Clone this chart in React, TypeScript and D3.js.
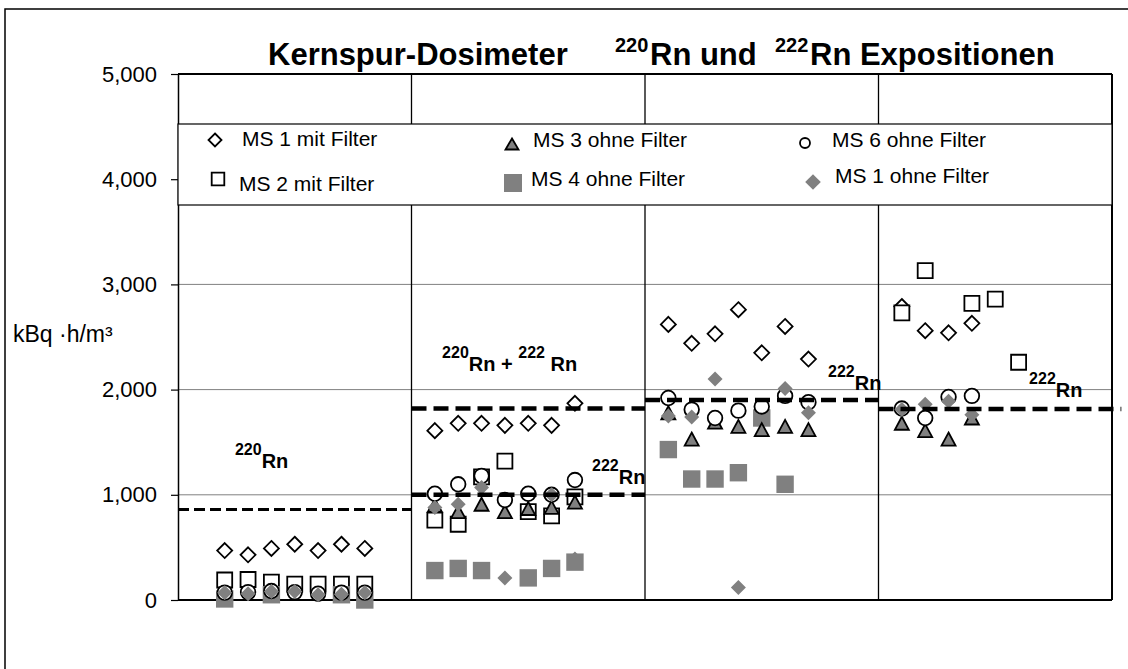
import * as d3 from 'd3';
import React, { useRef, useEffect } from 'react';

// x position of every measurement (panel index + offset inside the panel)
const xPos = [
  0.2, 0.3, 0.4, 0.5, 0.6, 0.7, 0.8,
  1.1, 1.2, 1.3, 1.4, 1.5, 1.6, 1.7,
  2.1, 2.2, 2.3, 2.4, 2.5, 2.6, 2.7,
  3.1, 3.2, 3.3, 3.4, 3.5, 3.6,
];

// kBq·h/m³ per dosimeter
const ms1Mit = [
  470, 430, 490, 530, 470, 530, 490,
  1610, 1680, 1680, 1660, 1680, 1660, 1870,
  2620, 2440, 2530, 2760, 2350, 2600, 2290,
  2790, 2560, 2540, 2630, null, null,
];
const ms2Mit = [
  190, 195, 170, 150, 150, 150, 150,
  760, 720, 1170, 1320, 840, 800, 980,
  null, null, null, null, null, null, null,
  2730, 3130, null, 2820, 2860, 2260,
];
const ms3Ohne = [
  null, null, null, null, null, null, null,
  900, 840, 910, 840, 870, 880, 930,
  1780, 1530, 1690, 1650, 1620, 1650, 1620,
  1680, 1610, 1530, 1730, null, null,
];
const ms4Ohne = [
  10, null, 50, null, null, 50, 0,
  280, 300, 280, null, 210, 300, 360,
  1430, 1150, 1150, 1210, 1730, 1100, null,
  null, null, null, null, null, null,
];
const ms6Ohne = [
  70, 75, 85, 75, 60, 70, 70,
  1010, 1100, 1180, 950, 1010, 1000, 1140,
  1920, 1810, 1730, 1800, 1840, 1940, 1880,
  1820, 1730, 1930, 1940, null, null,
];
const ms1Ohne = [
  70, 60, 80, 80, 50, 55, 70,
  880, 910, 1070, 210, 210, 1000, 390,
  1750, 1740, 2100, 120, null, 2010, 1780,
  1810, 1860, 1890, 1760, null, null,
];

// dashed reference levels
const refStart = [0, 1, 1, 2, 3];
const refEnd = [1, 2, 2, 3, 4.04];
const refValue = [860, 1820, 1000, 1900, 1815];

const yTicks = [0, 1000, 2000, 3000, 4000, 5000];
const panelEdges = [1, 2, 3];

// in-plot labels: [sup, base] pairs, anchored in data units
const noteX = [0.244, 1.131, 1.773, 2.784, 3.645];
const noteV = [1255, 2177, 1103, 1996, 1930];
const noteParts = [
  [['220', true], ['Rn', false]],
  [['220', true], ['Rn + ', false], ['222', true], [' Rn', false]],
  [['222', true], ['Rn', false]],
  [['222', true], ['Rn', false]],
  [['222', true], ['Rn', false]],
];

const legendNames = [
  'MS 1 mit Filter', 'MS 2 mit Filter', 'MS 3 ohne Filter',
  'MS 4 ohne Filter', 'MS 6 ohne Filter', 'MS 1 ohne Filter',
];

const FONT = 'Arial, "Liberation Sans", sans-serif';
const GRAY = '#808080';

const diamond = (h) => `M0,${-h}L${h},0L0,${h}L${-h},0Z`;
const square = (h) => `M${-h},${-h}H${h}V${h}H${-h}Z`;
const triangle = (w, h) => `M0,${-h / 2}L${w / 2},${h / 2}L${-w / 2},${h / 2}Z`;

function App() {
  const ref = useRef(null);

  useEffect(() => {
    draw();
  }, []);

  const draw = () => {
    const svg = d3.select(ref.current);
    svg.selectAll('*').remove();

    const x = d3.scaleLinear().domain([0, 4]).range([178, 1112]);
    const y = d3.scaleLinear().domain([0, 5000]).range([600, 74]);

    // outer frame
    svg.append('rect')
      .attr('x', 5).attr('y', 9).attr('width', 1130).attr('height', 700)
      .attr('fill', 'white').attr('stroke', '#000').attr('stroke-width', 1.5);

    // horizontal grid
    svg.append('g').selectAll('line').data(yTicks.slice(1, 5)).join('line')
      .attr('x1', x(0)).attr('x2', x(4))
      .attr('y1', (d) => y(d)).attr('y2', (d) => y(d))
      .attr('stroke', GRAY).attr('stroke-width', 1);

    // panel dividers
    svg.append('g').selectAll('line').data(panelEdges).join('line')
      .attr('x1', (d) => x(d)).attr('x2', (d) => x(d))
      .attr('y1', y(5000)).attr('y2', y(0))
      .attr('stroke', '#000').attr('stroke-width', 1.3);

    // top, right and bottom border of plot
    svg.append('line').attr('x1', x(0)).attr('x2', x(4)).attr('y1', y(5000)).attr('y2', y(5000))
      .attr('stroke', '#000').attr('stroke-width', 2);
    svg.append('line').attr('x1', x(4)).attr('x2', x(4)).attr('y1', y(5000)).attr('y2', y(0))
      .attr('stroke', '#000').attr('stroke-width', 2);
    svg.append('line').attr('x1', x(0)).attr('x2', x(4)).attr('y1', y(0)).attr('y2', y(0))
      .attr('stroke', '#000').attr('stroke-width', 2);

    // y axis
    const ax = svg.append('g').attr('transform', `translate(${x(0)},0)`)
      .call(d3.axisLeft(y).tickValues(yTicks).tickSize(7).tickSizeOuter(0).tickPadding(14)
        .tickFormat(d3.format(',')));
    ax.select('.domain').attr('stroke', '#000').attr('stroke-width', 1.5);
    ax.selectAll('.tick line').attr('stroke', '#000').attr('stroke-width', 1.2);
    ax.selectAll('.tick text').attr('font-family', FONT).attr('font-size', 22).attr('fill', '#000');

    // legend box
    const lg = svg.append('g');
    lg.append('rect').attr('x', x(0)).attr('y', 124).attr('width', x(4) - x(0)).attr('height', 81)
      .attr('fill', 'white').attr('stroke', '#000').attr('stroke-width', 1.2);
    const lgMark = [
      [215, 140, diamond(6.5), 'white', '#000'],
      [218, 179, square(6.3), 'white', '#000'],
      [512, 144, triangle(13, 11), GRAY, '#000'],
      [513, 183, square(9), GRAY, 'none'],
      [805, 143, null, 'white', '#000'],
      [813, 182, diamond(7.8), GRAY, 'none'],
    ];
    const lgText = [[242, 146], [239, 191], [533, 147], [531, 186], [832, 147], [835, 183]];
    lgMark.forEach((m, i) => {
      if (m[2]) {
        lg.append('path').attr('d', m[2]).attr('transform', `translate(${m[0]},${m[1]})`)
          .attr('fill', m[3]).attr('stroke', m[4]).attr('stroke-width', 1.8);
      } else {
        lg.append('ellipse').attr('cx', m[0]).attr('cy', m[1]).attr('rx', 5).attr('ry', 5)
          .attr('fill', m[3]).attr('stroke', m[4]).attr('stroke-width', 1.8);
      }
      lg.append('text').attr('x', lgText[i][0]).attr('y', lgText[i][1])
        .attr('font-family', FONT).attr('font-size', 21).attr('fill', '#000')
        .text(legendNames[i]);
    });

    // markers
    const pts = (vals) => xPos.map((xv, i) => ({ xv, v: vals[i] })).filter((d) => d.v != null);
    const drawPath = (vals, d, fill, stroke) => {
      svg.append('g').selectAll('path').data(pts(vals)).join('path')
        .attr('d', d)
        .attr('transform', (p) => `translate(${x(p.xv)},${y(p.v)})`)
        .attr('fill', fill).attr('stroke', stroke).attr('stroke-width', 1.8);
    };
    drawPath(ms1Mit, diamond(7.5), 'white', '#000');
    drawPath(ms2Mit, square(7.5), 'white', '#000');
    drawPath(ms4Ohne, square(8.7), GRAY, 'none');
    drawPath(ms3Ohne, triangle(14, 13), GRAY, '#000');
    svg.append('g').selectAll('circle').data(pts(ms6Ohne)).join('circle')
      .attr('cx', (p) => x(p.xv)).attr('cy', (p) => y(p.v)).attr('r', 7.3)
      .attr('fill', 'white').attr('stroke', '#000').attr('stroke-width', 1.8);
    drawPath(ms1Ohne, diamond(7.5), GRAY, 'none');

    // dashed reference lines
    svg.append('g').selectAll('line').data(refValue).join('line')
      .attr('x1', (d, i) => x(refStart[i])).attr('x2', (d, i) => x(refEnd[i]))
      .attr('y1', (d) => y(d)).attr('y2', (d) => y(d))
      .attr('stroke', '#000')
      .attr('stroke-width', (d, i) => (i === 0 ? 3 : 4.5))
      .attr('stroke-dasharray', (d, i) => (i === 0 ? '11,5' : '15,7'));

    // in-plot notes
    noteParts.forEach((parts, i) => {
      const t = svg.append('text').attr('x', x(noteX[i])).attr('y', y(noteV[i]))
        .attr('font-family', FONT).attr('font-weight', 'bold').attr('fill', '#000')
        .attr('xml:space', 'preserve');
      let raised = false;
      parts.forEach(([s, sup]) => {
        const dy = sup && !raised ? -13 : !sup && raised ? 13 : 0;
        raised = sup;
        t.append('tspan').attr('dy', dy).attr('font-size', sup ? 16 : 20).text(s);
      });
    });

    // title
    const title = svg.append('g').attr('font-family', FONT).attr('font-weight', 'bold').attr('fill', '#000');
    title.append('text').attr('x', 268).attr('y', 65).attr('font-size', 31).text('Kernspur-Dosimeter');
    title.append('text').attr('x', 615).attr('y', 52).attr('font-size', 20).text('220');
    title.append('text').attr('x', 650).attr('y', 65).attr('font-size', 31).text('Rn und');
    title.append('text').attr('x', 775).attr('y', 52).attr('font-size', 20).text('222');
    title.append('text').attr('x', 810).attr('y', 65).attr('font-size', 31).text('Rn Expositionen');

    // y label
    svg.append('text').attr('x', 13).attr('y', 342)
      .attr('font-family', FONT).attr('font-size', 23).attr('fill', '#000')
      .text('kBq ·h/m³');
  };

  return (
    <div className="chart">
      <svg ref={ref} width={1128} height={669}
        style={{ position: 'absolute', left: 0, top: 0, background: 'white' }}>
      </svg>
    </div>
  );
}

export default App;
